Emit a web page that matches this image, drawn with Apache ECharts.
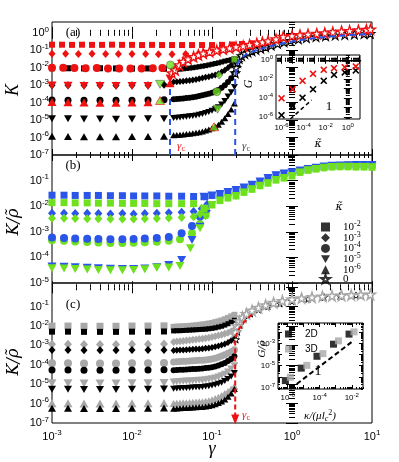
<!DOCTYPE html>
<html>
<head>
<meta charset="utf-8">
<script src="https://cdn.jsdelivr.net/npm/echarts@6/dist/echarts.min.js"></script>
<style>
  html, body { margin: 0; padding: 0; background: #fff; }
  #chart { width: 399px; height: 462px; }
</style>
</head>
<body>
<div id="chart"></div>
<script>
// all values are log10 of the plotted quantity (x = log10 gamma)

// ---- panel (a)  K
const aPlateauX   = [-3, -2.8, -2.6, -2.4, -2.2, -2.0, -1.8, -1.6];
const aBlackSqY   = [-2.03, -2.03, -2.04, -2.03, -2.04, -2.05, -2.04, -2.06];
const aBlackDiaY  = [-3.0, -3.0, -3.01, -3.0, -3.02, -3.01, -3.0, -2.98];
const aBlackCircY = [-3.85, -3.86, -3.86, -3.87, -3.87, -3.86, -3.85, -3.84];
const aBlackDownY = [-4.92, -4.93, -4.94, -4.94, -4.95, -4.94, -4.93, -4.92];
const aBlackUpY   = [-5.93, -5.94, -5.95, -5.95, -5.95, -5.94, -5.94, -5.92];

const denseX = [-1.48, -1.44, -1.40, -1.36, -1.32, -1.28, -1.24, -1.20, -1.16, -1.12,
                -1.08, -1.04, -1.00, -0.96, -0.92, -0.88, -0.84, -0.80, -0.76, -0.72];
const aBandSqY   = [-2.12, -2.10, -2.08, -2.06, -2.04, -2.02, -2.0, -1.97, -1.94, -1.91, -1.88, -1.84, -1.80, -1.76, -1.72, -1.67, -1.62, -1.58, -1.54, -1.50];
const aBandDiaY  = [-2.82, -2.80, -2.79, -2.77, -2.75, -2.73, -2.70, -2.67, -2.63, -2.59, -2.55, -2.51, -2.46, -2.41, -2.34, -2.25, -2.14, -2.0, -1.85, -1.65];
const aBandCircY = [-3.81, -3.79, -3.78, -3.76, -3.74, -3.72, -3.69, -3.66, -3.62, -3.58, -3.54, -3.49, -3.43, -3.36, -3.27, -3.15, -3.0, -2.82, -2.6, -2.35];
const aBandDownY = [-4.88, -4.86, -4.85, -4.83, -4.81, -4.78, -4.76, -4.73, -4.69, -4.65, -4.6, -4.54, -4.47, -4.38, -4.26, -4.1, -3.9, -3.65, -3.4, -3.1];
const aBandUpY   = [-5.87, -5.85, -5.84, -5.82, -5.8, -5.78, -5.76, -5.73, -5.69, -5.65, -5.6, -5.54, -5.47, -5.38, -5.26, -5.1, -4.9, -4.65, -4.4, -4.05];

const aRedSqX = [-3, -2.875, -2.75, -2.625, -2.5, -2.375, -2.25, -2.125, -2.0, -1.875, -1.75, -1.625, -1.5, -1.375, -1.25, -1.125, -1.0, -0.875, -0.75, -0.625, -0.5];
const aRedSqY = [-0.68, -0.68, -0.69, -0.68, -0.69, -0.69, -0.68, -0.69, -0.69, -0.7, -0.69, -0.7, -0.7, -0.7, -0.7, -0.7, -0.7, -0.69, -0.67, -0.64, -0.6];
const aRedDiaX = [-3, -2.83, -2.67, -2.5, -2.33, -2.17, -2.0, -1.83, -1.67, -1.5, -1.33, -1.17, -1.03, -0.9];
const aRedDiaY = [-1.2, -1.2, -1.21, -1.2, -1.21, -1.22, -1.22, -1.22, -1.23, -1.23, -1.22, -1.2, -1.1, -0.98];
const aRedCircX = [-3, -2.86, -2.72, -2.58, -2.44, -2.3, -2.16, -2.02, -1.88, -1.74, -1.62];
const aRedCircY = [-2.0, -2.0, -2.02, -2.03, -2.02, -2.04, -2.05, -2.05, -2.04, -2.03, -2.02];
const aRedTriX  = [-3, -2.8, -2.6, -2.4, -2.2, -2.0, -1.8, -1.525];
const aRedDownY = [-3.02, -3.03, -3.04, -3.04, -3.05, -3.05, -3.04, -2.62];
const aRedUpY   = [-3.97, -3.98, -3.99, -4.0, -4.0, -3.99, -3.98, -2.89];

const aRedStarX = [-1.5, -1.46, -1.41, -1.36, -1.3, -1.23, -1.17, -1.11, -1.03, -0.94, -0.86, -0.78, -0.7, -0.61, -0.53, -0.44, -0.37, -0.3, -0.2, -0.11, 0.0, 0.1, 0.2, 0.31, 0.41, 0.51, 0.62, 0.72, 0.83, 0.93, 0.98];
const aRedStarY = [-2.3, -2.13, -1.85, -1.65, -1.5, -1.37, -1.27, -1.17, -1.08, -1.0, -0.93, -0.87, -0.8, -0.75, -0.68, -0.6, -0.53, -0.47, -0.36, -0.22, -0.17, -0.12, -0.08, -0.05, -0.01, 0.04, 0.09, 0.12, 0.15, 0.18, 0.2];
const aBlackStarX = [-0.71, -0.7, -0.68, -0.66, -0.63, -0.59, -0.55, -0.5, -0.45, -0.39, -0.33, -0.26, -0.18, -0.1, -0.02, 0.08, 0.18, 0.3, 0.42, 0.54, 0.66, 0.78, 0.9, 0.98];
const aBlackStarY = [-2.3, -2.0, -1.7, -1.48, -1.32, -1.2, -1.12, -1.04, -0.97, -0.9, -0.81, -0.72, -0.62, -0.53, -0.44, -0.36, -0.29, -0.23, -0.18, -0.14, -0.11, -0.08, -0.06, -0.04];
const aFitX = [-0.71, -0.71, -0.7, -0.68, -0.64, -0.56, -0.45, -0.3, -0.1, 0.15, 0.45, 0.75, 1.0];
const aFitY = [-7, -2.6, -2.1, -1.75, -1.45, -1.2, -1.0, -0.8, -0.58, -0.38, -0.22, -0.12, -0.07];
const aGammaCRedLine = [[-1.525, -7], [-1.525, -2.45]];
const aGreenSquare = [[-0.72, -1.52]];
const aGreenDiamond = [[-0.91, -2.42]];
const aGreenCircle = [[-1.52, -1.84], [-0.94, -3.37]];
const aGreenDown = [[-1.65, -2.95], [-0.93, -4.38]];
const aGreenUp = [[-1.65, -3.88], [-0.975, -5.38]];

// inset (a)  G vs kappa~
const iaX = [-6, -5.0, -4.1, -3.15, -2.18, -1.25, -0.28, 0.72];
const iaRedY = [-4.03, -3.09, -2.2, -1.47, -1.05, -0.88, -0.77, -0.7];
const iaBlackY = [-5.8, -4.84, -3.97, -3.09, -2.2, -1.58, -1.33, -1.12];
const iaTopLine = [[-2.5, -0.1], [1.2, -0.1]];
const iaSlope = [[-5.2, -6.2], [-3.28, -4.21]];

// ---- panel (b)  K / rho~
const bPlateauX = [-3, -2.85, -2.71, -2.56, -2.42, -2.27, -2.12, -1.98, -1.84, -1.69, -1.54, -1.38, -1.23, -1.09];
const bBlueSqY   = [-1.57, -1.57, -1.58, -1.58, -1.58, -1.59, -1.59, -1.6, -1.6, -1.6, -1.61, -1.61, -1.62, -1.62];
const bGreenSqY  = [-1.86, -1.86, -1.87, -1.87, -1.88, -1.88, -1.89, -1.89, -1.89, -1.9, -1.9, -1.9, -1.9];
const bBlueDiaY  = [-2.28, -2.28, -2.29, -2.28, -2.29, -2.3, -2.29, -2.3, -2.29, -2.28, -2.26, -2.24, -2.21];
const bGreenDiaY = [-2.47, -2.47, -2.48, -2.49, -2.49, -2.5, -2.5, -2.5, -2.49, -2.48, -2.46, -2.44, -2.41];
const bBlueCircY  = [-3.22, -3.24, -3.26, -3.27, -3.28, -3.29, -3.29, -3.28, -3.26, -3.24];
const bGreenCircY = [-3.33, -3.35, -3.38, -3.4, -3.42, -3.44, -3.44, -3.43, -3.41, -3.39];
const bBlueDownY  = [-4.36, -4.37, -4.38, -4.4, -4.42, -4.44, -4.45, -4.45, -4.43, -4.38];
const bGreenDownY = [-4.42, -4.43, -4.45, -4.47, -4.49, -4.5, -4.5, -4.49, -4.46, -4.4];
const bBlueDiaRise   = [[-1.13, -2.1], [-1.06, -1.92]];
const bGreenDiaRise  = [[-1.15, -2.3], [-1.08, -2.1]];
const bBlueCircRise  = [[-1.54, -3.2], [-1.38, -3.06], [-1.25, -2.77], [-1.15, -2.4], [-1.08, -2.12]];
const bGreenCircRise = [[-1.54, -3.35], [-1.4, -3.29], [-1.25, -3.06], [-1.15, -2.7], [-1.08, -2.35]];
const bBlueDownRise  = [[-1.54, -4.3], [-1.38, -4.1], [-1.25, -3.32], [-1.15, -2.8], [-1.07, -2.3]];
const bGreenDownRise = [[-1.54, -4.39], [-1.4, -4.34], [-1.27, -3.64], [-1.15, -2.86], [-1.08, -2.4]];
const bBandX = [-1.1, -1.0, -0.9, -0.8, -0.7, -0.6, -0.5, -0.4, -0.3, -0.2, -0.1, 0, 0.1, 0.2, 0.3, 0.4, 0.5, 0.6, 0.7, 0.8, 0.9, 1.0];
const bBlueBandY  = [-1.63, -1.58, -1.52, -1.45, -1.37, -1.27, -1.16, -1.04, -0.9, -0.79, -0.72, -0.67, -0.61, -0.55, -0.5, -0.45, -0.42, -0.41, -0.40, -0.39, -0.39, -0.39];
const bGreenBandY = [-2.1, -1.95, -1.78, -1.68, -1.6, -1.46, -1.34, -1.2, -1.1, -0.98, -0.9, -0.82, -0.68, -0.6, -0.55, -0.5, -0.47, -0.46, -0.46, -0.47, -0.47, -0.48];
const bLegendNames = ['k2', 'k3', 'k4', 'k5', 'k6', 'k0'];
const bLegendLabels = ['10{s|-2}', '10{s|-3}', '10{s|-4}', '10{s|-5}', '10{s|-6}', '0'];

// ---- panel (c)  K / rho~
const cPlateauX = [-3, -2.8, -2.6, -2.4, -2.2, -2.0, -1.8, -1.6];
const cBlackSqY   = [-2.29, -2.29, -2.3, -2.3, -2.3, -2.29, -2.29, -2.28];
const cGreySqY    = [-2.0, -2.0, -2.01, -2.01, -2.01, -2.0, -2.0, -1.99];
const cBlackDiaY  = [-3.24, -3.24, -3.25, -3.25, -3.25, -3.24, -3.24, -3.23];
const cGreyDiaY   = [-2.94, -2.94, -2.95, -2.95, -2.95, -2.94, -2.94, -2.93];
const cBlackCircY = [-4.27, -4.27, -4.28, -4.28, -4.28, -4.27, -4.27, -4.26];
const cGreyCircY  = [-3.92, -3.92, -3.93, -3.93, -3.93, -3.92, -3.92, -3.91];
const cBlackDownY = [-5.26, -5.26, -5.27, -5.27, -5.27, -5.26, -5.26, -5.25];
const cGreyDownY  = [-4.95, -4.95, -4.96, -4.96, -4.96, -4.95, -4.95, -4.94];
const cBlackUpY   = [-6.24, -6.24, -6.25, -6.25, -6.25, -6.24, -6.24, -6.23];
const cGreyUpY    = [-5.98, -5.98, -5.99, -5.99, -5.99, -5.98, -5.98, -5.97];
const cBandBlackSqY   = [-2.25, -2.24, -2.24, -2.23, -2.22, -2.21, -2.2, -2.19, -2.18, -2.17, -2.16, -2.14, -2.12, -2.09, -2.05, -2.01, -1.95, -1.88, -1.8, -1.7];
const cBandGreySqY    = [-2.04, -2.03, -2.02, -2.01, -2.0, -1.99, -1.98, -1.96, -1.94, -1.92, -1.9, -1.87, -1.84, -1.8, -1.76, -1.71, -1.65, -1.58, -1.5, -1.42];
const cBandGreyDiaY   = [-2.82, -2.8, -2.79, -2.77, -2.75, -2.73, -2.71, -2.69, -2.67, -2.65, -2.63, -2.6, -2.57, -2.53, -2.49, -2.45, -2.4, -2.34, -2.27, -2.18];
const cBandBlackDiaY  = [-3.26, -3.25, -3.24, -3.23, -3.22, -3.21, -3.2, -3.19, -3.18, -3.17, -3.15, -3.13, -3.1, -3.07, -3.03, -2.98, -2.92, -2.85, -2.75, -2.63];
const cBandGreyCircY  = [-3.85, -3.84, -3.83, -3.82, -3.81, -3.8, -3.79, -3.78, -3.77, -3.76, -3.75, -3.73, -3.7, -3.66, -3.61, -3.55, -3.48, -3.4, -3.32, -3.22];
const cBandBlackCircY = [-4.28, -4.27, -4.26, -4.25, -4.24, -4.23, -4.22, -4.21, -4.2, -4.19, -4.17, -4.15, -4.12, -4.08, -4.03, -3.97, -3.9, -3.8, -3.7, -3.56];
const cBandGreyDownY  = [-4.88, -4.87, -4.86, -4.85, -4.84, -4.83, -4.82, -4.81, -4.8, -4.79, -4.77, -4.75, -4.72, -4.68, -4.63, -4.56, -4.48, -4.37, -4.22, -4.05];
const cBandBlackDownY = [-5.23, -5.22, -5.21, -5.2, -5.19, -5.18, -5.17, -5.16, -5.15, -5.14, -5.12, -5.1, -5.07, -5.03, -4.98, -4.92, -4.84, -4.73, -4.6, -4.42];
const cBandGreyUpY    = [-5.99, -5.98, -5.97, -5.96, -5.95, -5.94, -5.93, -5.92, -5.91, -5.9, -5.88, -5.85, -5.8, -5.74, -5.67, -5.58, -5.48, -5.37, -5.25, -5.1];
const cBandBlackUpY   = [-6.26, -6.25, -6.24, -6.23, -6.22, -6.21, -6.2, -6.19, -6.18, -6.17, -6.15, -6.12, -6.08, -6.03, -5.97, -5.89, -5.79, -5.65, -5.48, -5.25];
const cGreyStarX = [-0.71, -0.69, -0.66, -0.62, -0.57, -0.5, -0.42, -0.33, -0.23, -0.12, 0.0, 0.12, 0.25, 0.38, 0.5, 0.62, 0.74, 0.86, 0.98];
const cGreyStarY = [-2.3, -2.0, -1.75, -1.55, -1.37, -1.2, -1.05, -0.92, -0.8, -0.7, -0.62, -0.56, -0.51, -0.47, -0.44, -0.42, -0.4, -0.38, -0.37];
const cBlackStarX = [-0.7, -0.68, -0.65, -0.6, -0.52, -0.42, -0.3, -0.15, 0, 0.2, 0.4, 0.6, 0.8, 0.98];
const cBlackStarY = [-2.7, -2.3, -1.95, -1.62, -1.36, -1.15, -0.98, -0.84, -0.72, -0.6, -0.51, -0.45, -0.42, -0.4];
const cRedDash = [[-0.5, -1.4], [-0.6, -1.8], [-0.67, -2.2], [-0.71, -2.6], [-0.71, -6.75]];
const cArrow = [[-0.71, -6.82]];

// inset (c)  G/rho~ vs kappa/(mu lc^2)
const icBlackX = [-6.14, -5.15, -4.17, -3.14, -2.17];
const icBlackY = [-6.34, -5.22, -4.15, -3.06, -2.15];
const icGreyX = [-5.83, -4.8, -3.8, -2.83, -1.86];
const icGreyY = [-6.04, -4.97, -3.91, -2.76, -1.95];
const icSlope = [[-5.83, -7.09], [-1.86, -2.7]];

// ---- styling helpers
const RED = '#ee1111', BLUE = '#2a55e8', GREEN = '#6ee01e', GREY = '#a8a8a8', BLACK = '#000';
const STAR = 'path://M50,0 L61.8,35.1 98.9,35.1 69.1,56.7 80.3,91.9 50,70.2 19.7,91.9 30.9,56.7 1.1,35.1 38.2,35.1 Z';
const CROSS = 'path://M0,16 L16,0 L50,34 L84,0 L100,16 L66,50 L100,84 L84,100 L50,66 L16,100 L0,84 L34,50 Z';
const DOWN = 'path://M0,0 L100,0 L50,87 Z';
const SANS = 'Liberation Sans', SERIF = 'Liberation Serif', DSERIF = 'DejaVu Serif';

const grids = [
  { left: 52, top: 22, width: 320, height: 133 },
  { left: 52, top: 155, width: 320, height: 128 },
  { left: 52, top: 283, width: 320, height: 140 },
  { left: 276, top: 55, width: 84, height: 64 },
  { left: 278, top: 323, width: 85, height: 66 }
].map(g => Object.assign({ show: true, borderColor: '#000', borderWidth: 1, backgroundColor: 'transparent' }, g));

function decades(a, b) { const r = []; for (let e = Math.ceil(a - 1e-9); e <= b + 1e-9; e++) r.push(e); return r; }
function minors(a, b) {
  const r = [];
  for (let e = Math.floor(a); e <= b; e++) for (let k = 2; k <= 9; k++) { const v = e + Math.log10(k); if (v > a && v < b) r.push(v); }
  return r;
}

const xAxis = [], yAxis = [];
function axisSet(list, dim, gridIndex, range, labels, small, margin) {
  const pos = dim === 'x' ? ['bottom', 'top'] : ['left', 'right'];
  const main = list.length;
  const fs = small ? 8 : 11, ss = small ? 6 : 8;
  pos.forEach((p, k) => {
    const base = { type: 'value', gridIndex, min: range[0], max: range[1], position: p,
      axisLine: { show: false }, splitLine: { show: false } };
    list.push(Object.assign({}, base, {
      axisTick: { show: true, inside: true, length: small ? 4 : 6, customValues: decades(range[0], range[1]), lineStyle: { color: BLACK, width: 1 } },
      axisLabel: (k === 0 && labels.length) ? {
        show: true, customValues: labels, margin, color: BLACK, fontFamily: SANS, fontSize: fs,
        showMinLabel: true, showMaxLabel: true,
        formatter: v => '10{s|' + Math.round(v) + '}',
        rich: { s: { fontSize: ss, fontFamily: SANS, color: BLACK, padding: [0, 0, ss - 1, 0] } }
      } : { show: false }
    }));
    list.push(Object.assign({}, base, {
      axisTick: { show: true, inside: true, length: small ? 2 : 3, customValues: minors(range[0], range[1]), lineStyle: { color: BLACK, width: 1 } },
      axisLabel: { show: false }
    }));
  });
  return main;
}

const gx = [], gy = [];
gx[0] = axisSet(xAxis, 'x', 0, [-3, 1], [], false, 6);
gy[0] = axisSet(yAxis, 'y', 0, [-7, 0.62], [-7, -6, -5, -4, -3, -2, -1, 0], false, 3);
gx[1] = axisSet(xAxis, 'x', 1, [-3, 1], [], false, 6);
gy[1] = axisSet(yAxis, 'y', 1, [-5, 0], [-5, -4, -3, -2, -1], false, 3);
gx[2] = axisSet(xAxis, 'x', 2, [-3, 1], [-3, -2, -1, 0, 1], false, 6);
gy[2] = axisSet(yAxis, 'y', 2, [-7, 0.22], [-7, -6, -5, -4, -3, -2, -1], false, 3);
gx[3] = axisSet(xAxis, 'x', 3, [-6.5, 1.1], [-6, -4, -2, 0], true, 3);
gy[3] = axisSet(yAxis, 'y', 3, [-6.2, 0.5], [-6, -4, -2, 0], true, 3);
gx[4] = axisSet(xAxis, 'x', 4, [-6.6, -1.3], [-6, -4, -2], true, 3);
gy[4] = axisSet(yAxis, 'y', 4, [-7.1, -1.15], [-7, -5, -3], true, 3);

const series = [];
function pts(xs, ys) { return xs.map((x, i) => [x, ys[i]]); }
function sc(g, data, symbol, size, color, extra) {
  series.push(Object.assign({
    type: 'scatter', xAxisIndex: gx[g], yAxisIndex: gy[g], data, symbol, symbolSize: size,
    itemStyle: { color, opacity: 1 }, silent: true, animation: false
  }, extra || {}));
}
function open(g, data, size, color, w) {
  sc(g, data, STAR, size, '#fff', { itemStyle: { color: '#fff', borderColor: color, borderWidth: w || 1.1, opacity: 1 } });
}
function ln(g, data, color, width, dash, z) {
  series.push({ type: 'line', xAxisIndex: gx[g], yAxisIndex: gy[g], data, symbol: 'none', silent: true, animation: false,
    lineStyle: { color, width, type: dash || 'solid' }, z: z || 2 });
}

// panel (a)
ln(0, aGammaCRedLine, BLUE, 2, [6, 4]);
sc(0, pts(aPlateauX, aBlackSqY), 'rect', 6, BLACK);
sc(0, pts(aPlateauX, aBlackDiaY), 'diamond', [7, 8], BLACK);
sc(0, pts(aPlateauX, aBlackCircY), 'circle', 7, BLACK);
sc(0, pts(aPlateauX, aBlackDownY), DOWN, [8, 7], BLACK);
sc(0, pts(aPlateauX, aBlackUpY), 'triangle', [8, 7], BLACK);
sc(0, pts(denseX, aBandSqY), 'rect', 5, BLACK);
sc(0, pts(denseX, aBandDiaY), 'diamond', [6, 7], BLACK);
sc(0, pts(denseX, aBandCircY), 'circle', 6, BLACK);
sc(0, pts(denseX, aBandDownY), DOWN, [7, 6], BLACK);
sc(0, pts(denseX, aBandUpY), 'triangle', [7, 6], BLACK);
open(0, pts(aBlackStarX, aBlackStarY), 9, BLACK);
ln(0, pts(aFitX, aFitY), BLUE, 2, [6, 4], 3);
sc(0, pts(aRedCircX, aRedCircY), 'circle', 8, RED);
sc(0, pts(aRedTriX, aRedDownY), DOWN, [9, 8], RED);
sc(0, pts(aRedTriX, aRedUpY), 'triangle', [9, 8], RED);
sc(0, pts(aRedDiaX, aRedDiaY), 'diamond', [7, 8], RED);
sc(0, pts(aRedSqX, aRedSqY), 'rect', 6, RED);
open(0, pts(aRedStarX, aRedStarY), 10, RED, 1.3);
const greenStyle = { itemStyle: { color: GREEN, borderColor: '#444', borderWidth: 0.6 } };
sc(0, aGreenSquare, 'rect', 6, GREEN, greenStyle);
sc(0, aGreenDiamond, 'diamond', [7, 8], GREEN, greenStyle);
sc(0, aGreenCircle, 'circle', 8, GREEN, greenStyle);
sc(0, aGreenDown, DOWN, [9, 8], GREEN, greenStyle);
sc(0, aGreenUp, 'triangle', [9, 8], GREEN, { itemStyle: { color: GREEN, borderColor: RED, borderWidth: 0.8 } });

// inset (a)
ln(3, iaTopLine, BLACK, 1.5);
ln(3, iaSlope, BLACK, 1.5, [4, 3]);
sc(3, pts(iaX, iaBlackY), CROSS, 7, BLACK);
sc(3, pts(iaX, iaRedY), CROSS, 7, RED);

// panel (b)
sc(1, pts(bPlateauX.slice(0, 10), bGreenCircY).concat(bGreenCircRise), 'circle', 8, GREEN);
sc(1, pts(bPlateauX.slice(0, 10), bBlueCircY).concat(bBlueCircRise), 'circle', 8, BLUE);
sc(1, pts(bPlateauX.slice(0, 13), bBlueDiaY).concat(bBlueDiaRise), 'diamond', [8, 9], BLUE);
sc(1, pts(bPlateauX.slice(0, 13), bGreenDiaY).concat(bGreenDiaRise), 'diamond', [8, 9], GREEN);
sc(1, pts(bPlateauX, bBlueSqY).concat(pts(bBandX, bBlueBandY)), 'rect', 7, BLUE);
sc(1, pts(bPlateauX.slice(0, 10), bBlueDownY).concat(bBlueDownRise, pts(bBandX, bBlueBandY)), DOWN, [9, 8], BLUE);
sc(1, pts(bPlateauX.slice(0, 13), bGreenSqY).concat(pts(bBandX, bGreenBandY)), 'rect', 7, GREEN);
sc(1, pts(bPlateauX.slice(0, 10), bGreenDownY).concat(bGreenDownRise, pts(bBandX, bGreenBandY)), DOWN, [9, 8], GREEN);
const legendIcons = ['rect', 'diamond', 'circle', DOWN, 'triangle', STAR];
bLegendNames.forEach((n, i) => {
  series.push({ type: 'scatter', name: n, xAxisIndex: gx[1], yAxisIndex: gy[1], data: [],
    itemStyle: i === 5 ? { color: '#fff', borderColor: BLACK, borderWidth: 1.2 } : { color: BLACK } });
});

// panel (c)
const cSets = [
  [cGreySqY, cBandGreySqY, 'rect', 7, GREY], [cGreyDiaY, cBandGreyDiaY, 'diamond', [8, 9], GREY],
  [cGreyCircY, cBandGreyCircY, 'circle', 8, GREY], [cGreyDownY, cBandGreyDownY, DOWN, [9, 8], GREY],
  [cGreyUpY, cBandGreyUpY, 'triangle', [9, 8], GREY],
  [cBlackSqY, cBandBlackSqY, 'rect', 6, BLACK], [cBlackDiaY, cBandBlackDiaY, 'diamond', [7, 8], BLACK],
  [cBlackCircY, cBandBlackCircY, 'circle', 7, BLACK], [cBlackDownY, cBandBlackDownY, DOWN, [8, 7], BLACK],
  [cBlackUpY, cBandBlackUpY, 'triangle', [8, 7], BLACK]
];
cSets.forEach(s => {
  sc(2, pts(cPlateauX, s[0]), s[2], s[3], s[4]);
  sc(2, pts(denseX, s[1]), s[2], Array.isArray(s[3]) ? [s[3][0] - 1, s[3][1] - 1] : s[3] - 1, s[4]);
});
open(2, pts(cBlackStarX, cBlackStarY), 7, BLACK, 1);
open(2, pts(cGreyStarX, cGreyStarY), 10, GREY, 1.5);
ln(2, cRedDash, RED, 2, [5, 3], 4);
sc(2, cArrow, DOWN, [8, 10], RED, { z: 4 });

// inset (c)
ln(4, icSlope, BLACK, 2, [5, 3]);
series.push({ type: 'scatter', name: '2D', xAxisIndex: gx[4], yAxisIndex: gy[4], data: pts(icBlackX, icBlackY),
  symbol: 'rect', symbolSize: 7, itemStyle: { color: BLACK }, silent: true, animation: false });
series.push({ type: 'scatter', name: '3D', xAxisIndex: gx[4], yAxisIndex: gy[4], data: pts(icGreyX, icGreyY),
  symbol: 'rect', symbolSize: 7, itemStyle: { color: GREY }, silent: true, animation: false });

// text
function txt(x, y, text, size, opt) {
  opt = opt || {};
  return { type: 'text', x, y, rotation: opt.rot || 0, silent: true, z: 100,
    style: { text, fill: opt.color || BLACK, fontSize: size, fontFamily: opt.family || SERIF,
      fontStyle: opt.italic ? 'italic' : 'normal', textAlign: 'center', textVerticalAlign: 'middle',
      align: 'center', verticalAlign: 'middle', rich: opt.rich } };
}
function gammaC(x, y, color) {
  return txt(x, y, '{g|γ}{c|c}', 10, { color, rich: {
    g: { fontSize: 11, fontStyle: 'italic', fontFamily: SERIF, fill: color, color },
    c: { fontSize: 8, fontFamily: SERIF, fill: color, color, padding: [5, 0, 0, 0] } } });
}
const graphic = [
  txt(13, 90, 'K', 18, { italic: true, rot: Math.PI / 2 }),
  txt(14, 222, 'K/ρ\u0303', 16, { italic: true, rot: Math.PI / 2, family: DSERIF }),
  txt(14, 362, 'K/ρ\u0303', 16, { italic: true, rot: Math.PI / 2, family: DSERIF }),
  txt(212, 449, 'γ', 18, { italic: true }),
  txt(73, 33, '(a)', 13), txt(73, 166, '(b)', 13), txt(73, 305, '(c)', 13),
  gammaC(181, 146, RED), gammaC(246, 146, '#444'), gammaC(246, 415, RED),
  txt(249, 84, 'G', 12, { italic: true, rot: Math.PI / 2 }),
  txt(318, 144, 'κ\u0303', 11, { italic: true, family: DSERIF }),
  txt(329, 107, '1', 13),
  txt(262, 349, 'G/ρ\u0303', 10, { italic: true, rot: Math.PI / 2, family: DSERIF }),
  txt(318, 371, '1', 14),
  txt(320, 416, '{i|κ/(μl}{b|c}{p|2}{i|)}', 11, { rich: {
    i: { fontSize: 11, fontStyle: 'italic', fontFamily: SERIF },
    b: { fontSize: 8, fontStyle: 'italic', fontFamily: SERIF, padding: [5, 0, 0, 0] },
    p: { fontSize: 8, fontFamily: SERIF, padding: [0, 0, 6, 0] } } }),
  txt(339, 207, 'κ\u0303', 11, { italic: true, family: DSERIF })
];

const chart = echarts.init(document.getElementById('chart'), null, { renderer: 'canvas' });
chart.setOption({
  animation: false,
  backgroundColor: '#fff',
  grid: grids,
  xAxis, yAxis, series, graphic,
  legend: [{
    left: 315, top: 215, orient: 'vertical', itemWidth: 9, itemHeight: 9, itemGap: -1.8,
    selectedMode: false,
    data: bLegendNames.map((n, i) => ({ name: n, icon: legendIcons[i] })),
    formatter: n => bLegendLabels[bLegendNames.indexOf(n)],
    textStyle: { fontFamily: SERIF, fontSize: 11, color: BLACK, padding: [0, 0, 0, 8],
      rich: { s: { fontSize: 8, fontFamily: SERIF, color: BLACK, padding: [0, 0, 6, 0] } } }
  }, {
    left: 280, top: 324, orient: 'vertical', itemWidth: 7, itemHeight: 7, itemGap: 5,
    selectedMode: false, data: ['2D', '3D'], icon: 'rect',
    textStyle: { fontFamily: SANS, fontSize: 10, color: BLACK, padding: [0, 0, 0, 8] }
  }]
});
</script>
</body>
</html>
